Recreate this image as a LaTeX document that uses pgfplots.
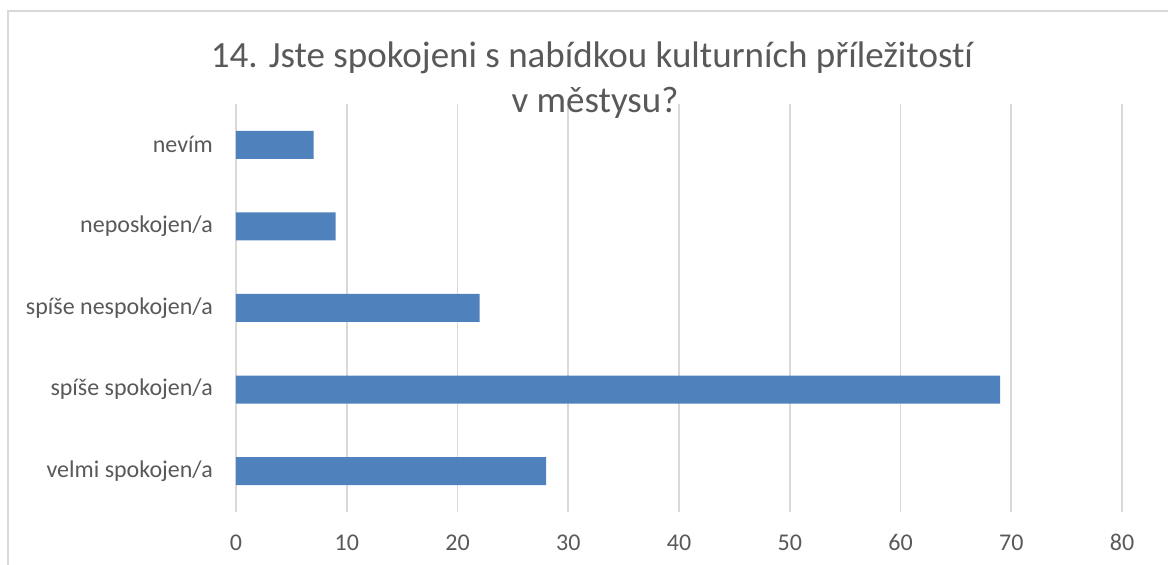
\documentclass[border=0pt]{standalone}
\usepackage{fontspec}
\setmainfont[RawFeature={-liga;-dlig}]{Carlito}
\usepackage{pgfplots}
\pgfplotsset{compat=1.18}
\definecolor{barblue}{HTML}{4F81BD}
\definecolor{gridgray}{HTML}{D9D9D9}
\definecolor{txt}{HTML}{595959}
\begin{document}
\begin{tikzpicture}[x=1pt,y=1pt]
\useasboundingbox (0,0) rectangle (1168,565);
\draw[gridgray, line width=1.5pt] (8,0) -- (8,554) -- (1168,554);
\begin{axis}[
  at={(236pt,53pt)}, anchor=south west, scale only axis,
  width=886pt, height=408pt,
  xbar, bar width=28pt,
  xmin=0, xmax=80, ymin=-0.5, ymax=4.5,
  xtick={0,10,...,80},
  ytick={0,1,2,3,4},
  yticklabels={velmi spokojen/a, spíše spokojen/a, spíše nespokojen/a, neposkojen/a, nevím},
  xmajorgrids, grid style={gridgray, line width=1.6pt},
  axis line style={draw=none},
  major tick length=0pt,
  tick label style={font=\fontsize{24}{29}\selectfont, text=txt},
  /pgf/number format/assume math mode=true,
  xticklabel style={anchor=base, yshift=-38.5pt},
  yticklabel style={anchor=east, inner sep=0pt, xshift=-23pt},
]
\addplot[fill=barblue, draw=none] coordinates {(28,0) (69,1) (22,2) (9,3) (7,4)};
\end{axis}
\node[anchor=base, text=txt, font=\fontsize{37}{44}\selectfont, inner sep=0pt] at (592,497) {14. Jste spokojeni s nabídkou kulturních příležitostí};
\node[anchor=base, text=txt, font=\fontsize{37}{44}\selectfont, inner sep=0pt] at (595,452) {v městysu?};
\end{tikzpicture}
\end{document}
